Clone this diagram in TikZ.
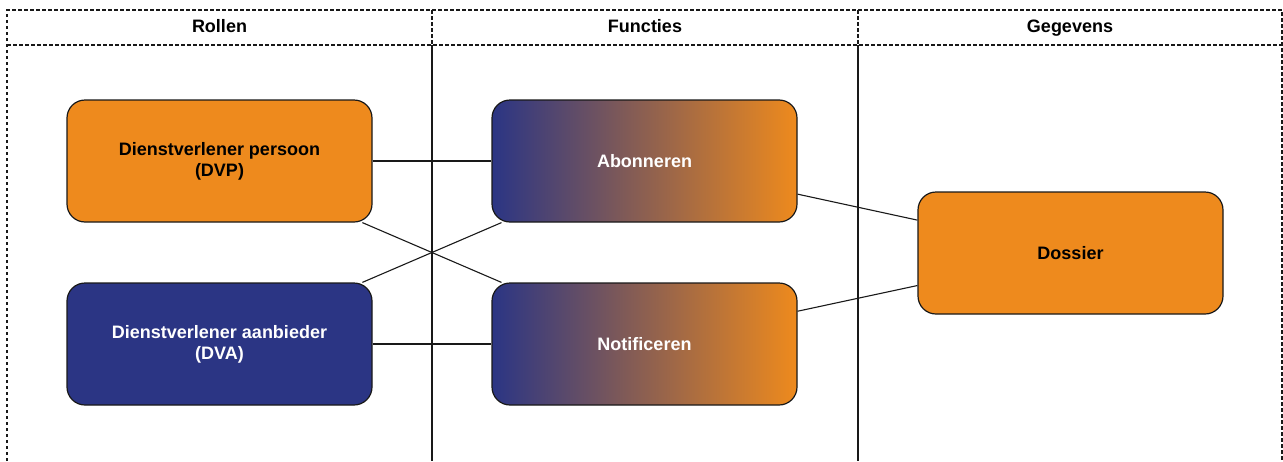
\documentclass[tikz,border=0pt]{standalone}
\usepackage{fontspec}
\setmainfont{Liberation Sans}
\definecolor{dvorange}{RGB}{238,138,29}
\definecolor{dvnavy}{RGB}{43,53,132}
\begin{document}
\begin{tikzpicture}[x=1pt,y=-1pt,
  box/.style={draw=black!90, line width=1.2pt, rounded corners=18pt,
    minimum width=305pt, minimum height=122pt, inner sep=0pt,
    align=center, font=\fontsize{18}{21}\selectfont\bfseries},
  orangebox/.style={box, fill=dvorange, text=black},
  navybox/.style={box, fill=dvnavy, text=white},
  gradbox/.style={box, left color=dvnavy, right color=dvorange, text=white},
  conn/.style={draw=black!90, line width=1.1pt},
  lanedash/.style={draw=black!90, line width=1.1pt, dash pattern=on 3.5pt off 2.5pt},
  lanesolid/.style={draw=black!90, line width=1.2pt},
  header/.style={font=\fontsize{18}{21}\selectfont\bfseries, text=black,
    text height=13pt, text depth=4pt, inner sep=0pt}]
\useasboundingbox (0,0) rectangle (1283,461);
% lanes
\coordinate (tl) at (7,10);
\coordinate (tr) at (1282,10);
\coordinate (hl) at (7,45);
\coordinate (hr) at (1282,45);
\coordinate (bl) at (7,461);
\coordinate (br) at (1282,461);
\coordinate (d1t) at (432,10);
\coordinate (d1h) at (432,45);
\coordinate (d1b) at (432,461);
\coordinate (d2t) at (858,10);
\coordinate (d2h) at (858,45);
\coordinate (d2b) at (858,461);
\draw[lanedash] (bl) -- (tl) -- (tr) -- (br);
\draw[lanedash] (hl) -- (hr);
\draw[lanedash] (d1t) -- (d1h);
\draw[lanedash] (d2t) -- (d2h);
\draw[lanesolid] (d1h) -- (d1b);
\draw[lanesolid] (d2h) -- (d2b);
\node[header] (h1) at (219.5,27.5) {Rollen};
\node[header] (h2) at (645,27.5) {Functies};
\node[header] (h3) at (1070,27.5) {Gegevens};
% boxes
\node[orangebox] (dvp) at (219.5,161) {Dienstverlener persoon\\(DVP)};
\node[navybox] (dva) at (219.5,344) {Dienstverlener aanbieder\\(DVA)};
\node[gradbox] (abo) at (644.5,161) {Abonneren};
\node[gradbox] (not) at (644.5,344) {Notificeren};
\node[orangebox] (dos) at (1070.5,253) {Dossier};
% connectors
\draw[conn] (dvp) -- (abo);
\draw[conn] (dva) -- (not);
\draw[conn] (dvp) -- (not);
\draw[conn] (dva) -- (abo);
\draw[conn] (abo) -- (dos);
\draw[conn] (not) -- (dos);
\end{tikzpicture}
\end{document}
